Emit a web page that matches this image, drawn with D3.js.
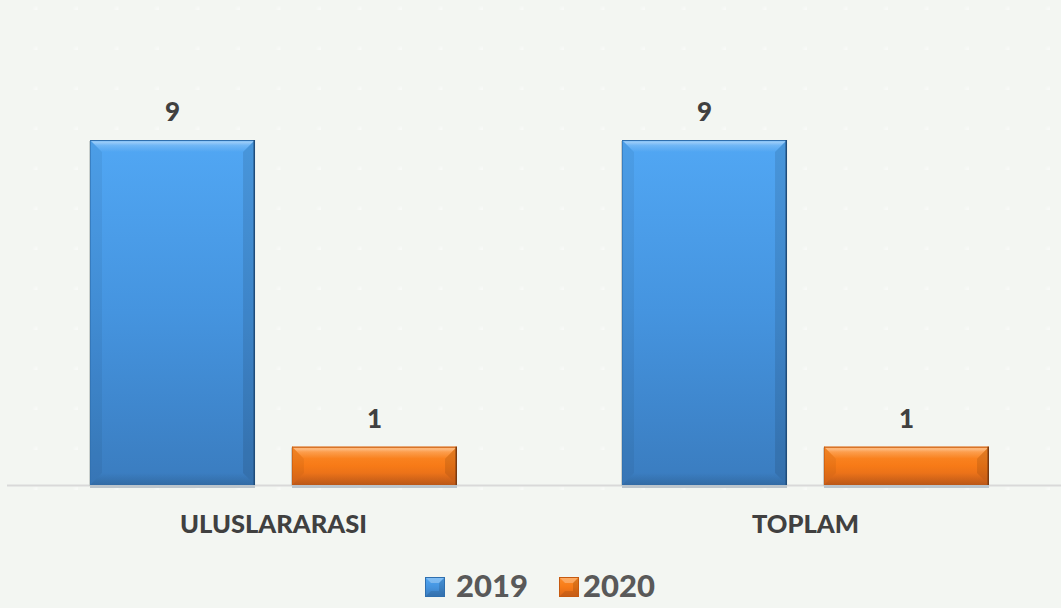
<!DOCTYPE html>
<html>
<head>
<meta charset="utf-8">
<script src="https://cdn.jsdelivr.net/npm/d3@7"></script>
<style>
  html, body { margin: 0; padding: 0; background: #f3f6f2; }
  svg { display: block; }
</style>
</head>
<body>
<svg id="chart" width="1061" height="608"></svg>
<script>
// Chart data
const categories = ["ULUSLARARASI", "TOPLAM"];
const seriesNames = ["2019", "2020"];
const values2019 = [9, 9];
const values2020 = [1, 1];
const seriesValues = [values2019, values2020];

const W = 1061, H = 608;
const baseY = 485;
const topY = 140;
const maxValue = 9;

const svg = d3.select("#chart");
const defs = svg.append("defs");

// faint dotted background texture
const pat = defs.append("pattern")
  .attr("id", "dots").attr("patternUnits", "userSpaceOnUse")
  .attr("width", 40.5).attr("height", 40).attr("x", -3).attr("y", -30);
defs.append("filter").attr("id", "soft")
  .append("feGaussianBlur").attr("stdDeviation", 1.6);
pat.append("circle").attr("cx", 40).attr("cy", 40).attr("r", 3)
  .attr("fill", "#ffffff").attr("opacity", 0.55).attr("filter", "url(#soft)");
svg.append("rect").attr("width", W).attr("height", H).attr("fill", "#f3f6f2");
svg.append("rect").attr("width", W).attr("height", 520).attr("fill", "url(#dots)");

// palettes for the two series
const palettes = [
  { top: "#51a7f4", mid: "#4594df", bot: "#3a7cbf", edge: "#1f4c7a", rim: "#2f6fae" },
  { top: "#fd8d2a", mid: "#f77a17", bot: "#d9661c", edge: "#7a3a10", rim: "#c65a10" }
];
palettes.forEach((p, i) => {
  const g = defs.append("linearGradient").attr("id", "body" + i)
    .attr("x1", 0).attr("y1", 0).attr("x2", 0).attr("y2", 1);
  g.append("stop").attr("offset", "0%").attr("stop-color", p.top);
  g.append("stop").attr("offset", "50%").attr("stop-color", p.mid);
  g.append("stop").attr("offset", "100%").attr("stop-color", p.bot);
});
const tg = defs.append("linearGradient").attr("id", "topBevel")
  .attr("x1", 0).attr("y1", 0).attr("x2", 0).attr("y2", 1);
tg.append("stop").attr("offset", "0%").attr("stop-color", "#fff").attr("stop-opacity", 0.12);
tg.append("stop").attr("offset", "18%").attr("stop-color", "#fff").attr("stop-opacity", 0.42);
tg.append("stop").attr("offset", "45%").attr("stop-color", "#fff").attr("stop-opacity", 0.18);
tg.append("stop").attr("offset", "100%").attr("stop-color", "#fff").attr("stop-opacity", 0);
const bg = defs.append("linearGradient").attr("id", "botBevel")
  .attr("x1", 0).attr("y1", 0).attr("x2", 0).attr("y2", 1);
bg.append("stop").attr("offset", "0%").attr("stop-color", "#000").attr("stop-opacity", 0);
bg.append("stop").attr("offset", "100%").attr("stop-color", "#000").attr("stop-opacity", 0.14);

// scales
const x0 = d3.scaleBand().domain(categories).range([7.5, 1071.5]).padding(0);
const x1 = d3.scaleBand().domain(seriesNames).range([82.5, 449.5])
  .paddingInner(0.183).paddingOuter(0);
const y = d3.scaleLinear().domain([0, maxValue]).range([baseY, topY]);

// axis baseline
svg.append("line")
  .attr("x1", 7).attr("x2", W).attr("y1", baseY + 0.5).attr("y2", baseY + 0.5)
  .attr("stroke", "#d9d9d9").attr("stroke-width", 2);

const pts = a => a.map(d => d.join(",")).join(" ");

// bevelled bar drawing
function bevelBar(g, x, yy, w, h, si) {
  const p = palettes[si];
  const b = Math.min(12, h / 3.2);
  g.append("rect").attr("x", x - 1).attr("y", yy + 1).attr("width", 1).attr("height", h)
    .attr("fill", "#c9cfcc");
  g.append("rect").attr("x", x).attr("y", baseY).attr("width", w).attr("height", 3)
    .attr("fill", "#bcc5cc");
  g.append("rect").attr("x", x).attr("y", yy).attr("width", w).attr("height", h)
    .attr("fill", `url(#body${si})`);
  g.append("polygon").attr("points", pts([[x, yy], [x + w, yy], [x + w - b, yy + b], [x + b, yy + b]]))
    .attr("fill", "url(#topBevel)");
  g.append("polygon").attr("points", pts([[x, yy], [x + b, yy + b], [x + b, yy + h - b], [x, yy + h]]))
    .attr("fill", "#000").attr("opacity", 0.05);
  g.append("polygon").attr("points", pts([[x + w, yy], [x + w - b, yy + b], [x + w - b, yy + h - b], [x + w, yy + h]]))
    .attr("fill", "#000").attr("opacity", 0.1);
  g.append("polygon").attr("points", pts([[x, yy + h], [x + b, yy + h - b], [x + w - b, yy + h - b], [x + w, yy + h]]))
    .attr("fill", "url(#botBevel)");
  g.append("line").attr("x1", x).attr("x2", x + w).attr("y1", yy + 0.5).attr("y2", yy + 0.5)
    .attr("stroke", p.rim).attr("stroke-width", 1);
  g.append("line").attr("x1", x + w - 0.75).attr("x2", x + w - 0.75).attr("y1", yy).attr("y2", yy + h)
    .attr("stroke", p.edge).attr("stroke-width", 1.5);
  g.append("line").attr("x1", x + 0.5).attr("x2", x + 0.5).attr("y1", yy).attr("y2", yy + h)
    .attr("stroke", p.rim).attr("stroke-width", 1).attr("opacity", 0.6);
}

const textColor = "#404040";
const font = "Lato, 'Open Sans', sans-serif";

categories.forEach((cat, ci) => {
  const g = svg.append("g").attr("transform", `translate(${x0(cat)},0)`);
  seriesNames.forEach((s, si) => {
    const v = seriesValues[si][ci];
    const bx = x1(s), bw = x1.bandwidth();
    const by = y(v), bh = baseY - y(v);
    bevelBar(g, bx, by, bw, bh, si);
    g.append("text")
      .attr("x", bx + bw / 2).attr("y", by - 19)
      .attr("text-anchor", "middle")
      .attr("font-family", font).attr("font-weight", 900).attr("font-size", 26)
      .attr("fill", textColor)
      .text(v);
  });
  svg.append("text")
    .attr("x", x0(cat) + x0.bandwidth() / 2).attr("y", 533)
    .attr("text-anchor", "middle")
    .attr("font-family", font).attr("font-weight", 900).attr("font-size", 25.5)
    .attr("fill", textColor)
    .text(cat);
});

// legend
const legendItems = [
  { name: seriesNames[0], sx: 425, tx: 456 },
  { name: seriesNames[1], sx: 559, tx: 583 }
];
legendItems.forEach((it, i) => {
  const lg = svg.append("g");
  const p = palettes[i];
  const s = 20, ly = 577;
  const b = 6, x = it.sx, yy = ly;
  lg.append("rect").attr("x", x).attr("y", yy).attr("width", s).attr("height", s)
    .attr("fill", `url(#body${i})`);
  lg.append("polygon").attr("points", pts([[x, yy], [x + s, yy], [x + s - b, yy + b], [x + b, yy + b]]))
    .attr("fill", "#fff").attr("opacity", 0.28);
  lg.append("polygon").attr("points", pts([[x + s, yy], [x + s - b, yy + b], [x + s - b, yy + s - b], [x + s, yy + s]]))
    .attr("fill", "#000").attr("opacity", 0.12);
  lg.append("polygon").attr("points", pts([[x, yy + s], [x + b, yy + s - b], [x + s - b, yy + s - b], [x + s, yy + s]]))
    .attr("fill", "#000").attr("opacity", 0.1);
  lg.append("rect").attr("x", x + 0.5).attr("y", yy + 0.5).attr("width", s - 1).attr("height", s - 1)
    .attr("fill", "none").attr("stroke", p.rim).attr("stroke-width", 1);
  lg.append("text")
    .attr("x", it.tx).attr("y", 597)
    .attr("font-family", font).attr("font-weight", 900).attr("font-size", 31)
    .attr("fill", "#595959")
    .text(it.name);
});
</script>
</body>
</html>
